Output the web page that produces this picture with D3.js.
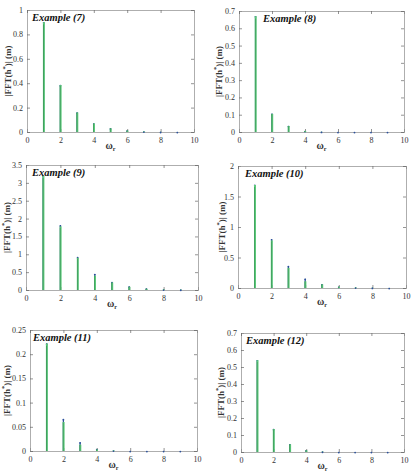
<!DOCTYPE html>
<html><head><meta charset="utf-8">
<script src="https://cdn.jsdelivr.net/npm/d3@7"></script>
<style>body{margin:0;background:#fff}svg{display:block}svg text{font-family:"Liberation Serif","Times New Roman",serif}</style>
</head><body>
<svg id="c" width="415" height="471"></svg>
<script>
const freqs = [1,2,3,4,5,6,7,8,9];
const titles = ["Example (7)","Example (8)","Example (9)","Example (10)","Example (11)","Example (12)"];
// exact (blue) and approximate (green) spectra
const blue7  = [0.90,0.385,0.16,0.07,0.03,0.012,0.004,0.001,0.0005];
const green7 = [0.90,0.385,0.16,0.07,0.03,0.012,0.004,0.001,0.0005];
const blue8  = [0.67,0.105,0.035,0.006,0.001,0,0,0,0];
const green8 = [0.67,0.105,0.035,0.006,0.001,0,0,0,0];
const blue9  = [3.2,1.81,0.92,0.45,0.22,0.10,0.04,0.015,0.01];
const green9 = [3.2,1.78,0.90,0.40,0.21,0.09,0.035,0.012,0.008];
const blue10 = [1.69,0.80,0.36,0.15,0.06,0.02,0.008,0.003,0.001];
const green10= [1.69,0.78,0.33,0.11,0.06,0.02,0.007,0.003,0.001];
const blue11 = [0.222,0.066,0.018,0.004,0.001,0,0,0,0];
const green11= [0.222,0.060,0.013,0.003,0.001,0,0,0,0];
const blue12 = [0.54,0.135,0.045,0.01,0.002,0,0,0,0];
const green12= [0.54,0.135,0.045,0.01,0.002,0,0,0,0];
const yMax   = [1,0.7,3.5,2,0.25,0.7];
const yStep  = [0.2,0.1,0.5,0.5,0.05,0.1];
const xTicks = [0,2,4,6,8,10];
const blues = [blue7,blue8,blue9,blue10,blue11,blue12];
const greens = [green7,green8,green9,green10,green11,green12];

const boxes = [
  {l:27,r:194,t:10,b:132,tx:5,ly:16},
  {l:239,r:404,t:11,b:132,tx:24,ly:17},
  {l:26,r:198,t:165,b:290,tx:6,ly:16},
  {l:238,r:406,t:166,b:288,tx:7,ly:13},
  {l:30,r:197,t:330,b:451,tx:3,ly:20},
  {l:241,r:404,t:333,b:452,tx:5,ly:17}
];
const svg = d3.select("#c");
const serif = '"Liberation Serif","Times New Roman",serif';
boxes.forEach((bx,i)=>{
  const x = d3.scaleLinear().domain([0,10]).range([bx.l,bx.r]);
  const y = d3.scaleLinear().domain([0,yMax[i]]).range([bx.b,bx.t]);
  const g = svg.append("g");
  const yt = d3.range(0, yMax[i]+yStep[i]/2, yStep[i]).map(v=>+v.toFixed(4));
  const fmt = v => String(+v.toFixed(3));
  const ax = d3.axisBottom(x).tickValues(xTicks).tickSize(-3).tickPadding(5).tickFormat(fmt);
  const ay = d3.axisLeft(y).tickValues(yt).tickSize(-3).tickPadding(4).tickFormat(fmt);
  const axT = d3.axisTop(x).tickValues(xTicks).tickSize(-3).tickFormat("");
  const ayR = d3.axisRight(y).tickValues(yt).tickSize(-3).tickFormat("");
  [[ax,`translate(0,${bx.b})`],[ay,`translate(${bx.l},0)`],[axT,`translate(0,${bx.t})`],[ayR,`translate(${bx.r},0)`]].forEach(([a,tr])=>{
    const ag = g.append("g").attr("transform",tr).call(a).attr("font-family",null);
    ag.select(".domain").attr("stroke","#999").attr("stroke-width",0.8);
    ag.selectAll(".tick line").attr("stroke","#666").attr("stroke-width",0.7);
    ag.selectAll("text").style("font-family",serif).attr("font-size",8).attr("fill","#333");
  });
  // stems
  const bl = blues[i], gr = greens[i];
  g.selectAll(".bs").data(freqs).enter().append("line")
    .attr("x1",d=>x(d)).attr("x2",d=>x(d))
    .attr("y1",y(0)).attr("y2",(d,j)=>y(bl[j]))
    .attr("stroke","#2a4f9a").attr("stroke-width",1.2);
  g.selectAll(".bm").data(freqs).enter().append("circle")
    .attr("cx",d=>x(d)).attr("cy",(d,j)=>y(bl[j])+0.6).attr("r",0.9)
    .attr("fill","#2a4f9a");
  g.selectAll(".gs").data(freqs).enter().append("line")
    .attr("x1",d=>x(d)+0.2).attr("x2",d=>x(d)+0.2)
    .attr("y1",y(0)).attr("y2",(d,j)=>y(gr[j]))
    .attr("stroke","#5cc97a").attr("stroke-width",2);
  g.selectAll(".gc").data(freqs).enter().append("line")
    .attr("x1",d=>x(d)-0.2).attr("x2",d=>x(d)-0.2)
    .attr("y1",y(0)).attr("y2",(d,j)=>y(Math.min(gr[j],bl[j])*0.98))
    .attr("stroke","#1f6a3c").attr("stroke-width",0.6).attr("opacity",0.7);
  // title
  g.append("text").attr("x",bx.l+bx.tx).attr("y",bx.t+11).text(titles[i])
    .style("font-family",serif).attr("font-size",10.5).attr("font-weight","bold").attr("font-style","italic").attr("fill","#111");
  // x label
  const xl = g.append("text").attr("x",(bx.l+bx.r)/2).attr("y",bx.b+17).attr("text-anchor","middle")
    .style("font-family",serif).attr("font-size",10).attr("font-weight","bold").attr("fill","#333");
  xl.append("tspan").text("ω");
  xl.append("tspan").attr("dy",2).attr("font-size",6).text("r");
  // y label
  const yl = g.append("text").attr("transform",`translate(${bx.l-bx.ly},${(bx.t+bx.b)/2}) rotate(-90)`)
    .attr("text-anchor","middle").style("font-family",serif).attr("font-size",9).attr("font-weight","bold").attr("fill","#333");
  yl.append("tspan").text("|FFT(h");
  yl.append("tspan").attr("dy",-4).attr("font-size",6.5).text("*");
  yl.append("tspan").attr("dy",4).text(")| (m)");
});
</script>
</body></html>
